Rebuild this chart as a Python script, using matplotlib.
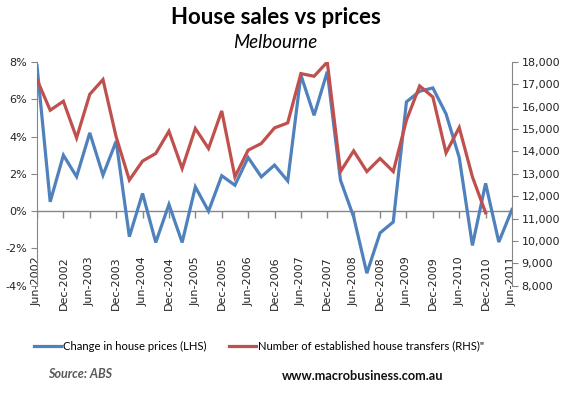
import matplotlib
matplotlib.use("Agg")
import matplotlib.pyplot as plt
import numpy as np
from matplotlib.lines import Line2D

# ---- data ----
quarters = []
for yr in range(2002, 2012):
    for m in ["Mar", "Jun", "Sep", "Dec"]:
        quarters.append(f"{m}-{yr}")
quarters = quarters[1:quarters.index("Jun-2011") + 1]  # Jun-2002 .. Jun-2011

price_change = [7.8, 0.5, 3.0, 1.85, 4.2, 1.93, 3.75, -1.37, 0.95, -1.68,
                0.36, -1.68, 1.3, 0.0, 1.9, 1.39, 2.88, 1.84, 2.47, 1.62,
                7.3, 5.14, 7.48, 1.66, -0.31, -3.33, -1.17, -0.58, 5.86, 6.43,
                6.61, 5.22, 2.88, -1.84, 1.49, -1.66, 0.09]

transfers = [17214, 15844, 16246, 14607, 16558, 17214, 14650, 12723, 13571, 13911,
             14906, 13241, 15027, 14134, 15813, 12866, 14058, 14357, 15054, 15277,
             17482, 17362, 18000, 13103, 14027, 13103, 13688, 13103, 15397, 16929,
             16438, 13938, 15071, 12866, 11259]

tick_labels = [q for i, q in enumerate(quarters) if i % 2 == 0]

left_ticks = [-4, -2, 0, 2, 4, 6, 8]
right_ticks = list(range(8000, 18001, 1000))

# ---- figure ----
W, H = 572, 395
fig = plt.figure(figsize=(W / 100, H / 100), dpi=100)
x0, x1, ytop, ybot = 37, 512, 62, 285.7
ax = fig.add_axes([x0 / W, 1 - ybot / H, (x1 - x0) / W, (ybot - ytop) / H])
ax2 = ax.twinx()

blue = "#4F81BD"
red = "#C0504D"
axis_col = "#868686"

xs = np.arange(len(quarters))
ax.plot(xs, price_change, color=blue, lw=2.3, solid_joinstyle="miter", zorder=3)
ax2.plot(xs[:len(transfers)], transfers, color=red, lw=2.3, solid_joinstyle="miter", zorder=3)

ax.set_xlim(0, len(quarters) - 1)
ax.set_ylim(-4, 8)
ax2.set_ylim(8000, 18000)

for a in (ax, ax2):
    for s in ["top", "bottom"]:
        a.spines[s].set_visible(False)
    a.patch.set_visible(False)
ax.spines["right"].set_visible(False)
ax2.spines["left"].set_visible(False)
ax.spines["left"].set_color(axis_col)
ax2.spines["right"].set_color(axis_col)

ax.set_yticks(left_ticks)
ax.set_yticklabels([f"{v}%" for v in left_ticks])
ax2.set_yticks(right_ticks)
ax2.set_yticklabels([f"{v:,}" for v in right_ticks])
ax.tick_params(axis="y", length=4, color=axis_col, labelsize=8, pad=3, labelcolor="#222222")
ax2.tick_params(axis="y", length=4, color=axis_col, labelsize=8, pad=3, labelcolor="#222222")

# zero line acting as category axis
ax.axhline(0, color=axis_col, lw=1, zorder=2)
tick_pos = xs[::2]
ax.vlines(tick_pos, -0.38, 0, color=axis_col, lw=1, zorder=2)

ax.set_xticks(tick_pos)
ax.set_xticklabels(tick_labels, rotation=90, fontsize=8, color="#222222")
ax.tick_params(axis="x", length=0, pad=-21)

# titles
fig.text(276 / W, 1 - 18 / H, "House sales vs prices", ha="center", va="center",
         fontsize=16, fontweight="bold", family="Lato")
fig.text(275 / W, 1 - 42 / H, "Melbourne", ha="center", va="center",
         fontsize=13.5, style="italic", family="Lato")

# legend
handles = [Line2D([], [], color=blue, lw=2.3), Line2D([], [], color=red, lw=2.3)]
leg = fig.legend(handles, ["Change in house prices (LHS)",
                           "Number of established house transfers (RHS)\""],
                 loc="center", bbox_to_anchor=(259 / W, 1 - 346 / H), ncol=2,
                 frameon=False, prop={"family": "Lato", "size": 8.1},
                 handlelength=2.4, handletextpad=0.15, columnspacing=2.0)

fig.text(48 / W, 1 - 374 / H, "Source: ABS", ha="left", va="center",
         fontsize=9, fontweight="bold", style="italic", color="#595959", family="Lato")
fig.text(363 / W, 1 - 376 / H, "www.macrobusiness.com.au", ha="center", va="center",
         fontsize=9.2, fontweight="bold", color="#111111", family="Lato")

fig.savefig("out.png", dpi=100)
